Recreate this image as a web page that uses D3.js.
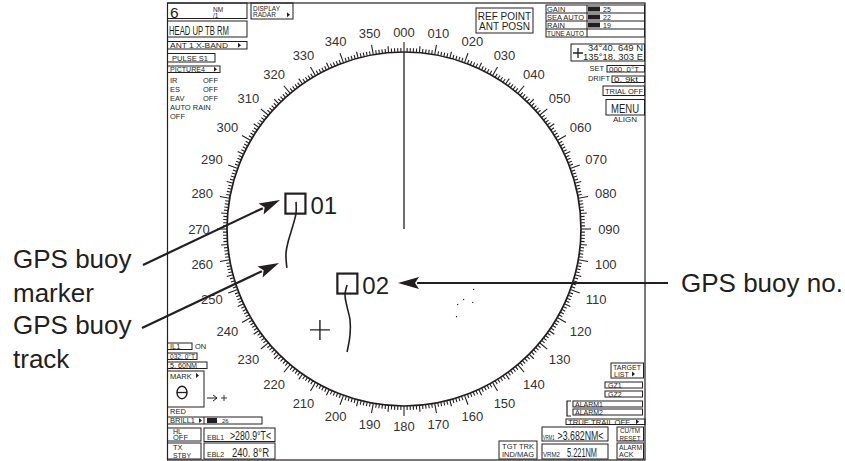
<!DOCTYPE html>
<html>
<head>
<meta charset="utf-8">
<script src="https://cdn.jsdelivr.net/npm/d3@7"></script>
<style>
body{margin:0;background:#fff}
text{font-family:"Liberation Sans",Arial,Helvetica,sans-serif;fill:#231f20}
</style>
</head>
<body>
<svg width="845" height="461"></svg>
<script>
// radar range (NM) and bearing labels every 10 deg
var rangeNM = 6;
var bearingLabels = d3.range(0, 360, 10).map(function(d){ return d3.format("03d")(d); });
// buoys, east/north offsets from own ship in NM
var buoyIds = ["01", "02"];
var buoyEast = [-3.68, -1.92];
var buoyNorth = [0.86, -1.85];
// buoy tracks (east, north in NM)
var track01 = [[-3.66,0.92],[-3.66,0.54],[-3.73,0.24],[-3.83,-0.10],[-3.93,-0.44],[-4.0,-0.81],[-3.97,-1.32]];
var track02 = [[-1.93,-1.90],[-2.0,-2.24],[-1.93,-2.64],[-1.83,-3.08],[-1.83,-3.59],[-1.93,-4.17]];
// cursor and small echoes
var cursorPos = [-2.85, -3.42];
var echoes = [[2.34,-2.03],[2.0,-2.37],[2.31,-2.47],[1.80,-2.54],[1.76,-2.95]];

var svg = d3.select("svg");
var cx = 404, cy = 229, R = 177;
var x = d3.scaleLinear().domain([-rangeNM, rangeNM]).range([cx - R, cx + R]);
var y = d3.scaleLinear().domain([-rangeNM, rangeNM]).range([cy + R, cy - R]);
var ang = d3.scaleLinear().domain([0, 360]).range([0, 2 * Math.PI]);
var ink = "#231f20";

//helpers
function box(x0, y0, w, h, sw){
  svg.append("rect").attr("x", x0).attr("y", y0).attr("width", w).attr("height", h)
    .attr("fill", "none").attr("stroke", ink).attr("stroke-width", sw || 1);
}
function t(x0, y0, s, size, opt){
  opt = opt || {};
  var el = svg.append("text").attr("x", x0).attr("y", y0).attr("font-size", size)
    .attr("text-anchor", opt.anchor || "start").text(s);
  if (opt.len) el.attr("textLength", opt.len).attr("lengthAdjust", "spacingAndGlyphs");
  return el;
}
function tri(x0, y0){
  svg.append("path").attr("d", "M" + x0 + "," + (y0 - 2.5) + "l3,2.5l-3,2.5z").attr("fill", ink);
}

// outer frame
box(167.5, 3, 477.5, 457, 1.2);

// ---- scale ring ----
var ring = svg.append("g");
ring.append("circle").attr("cx", cx).attr("cy", cy).attr("r", R)
  .attr("fill", "none").attr("stroke", ink).attr("stroke-width", 1.7);
function tickLen(d){ return d % 10 == 0 ? 10 : d % 5 == 0 ? 6.5 : 4; }
ring.selectAll("line.tk").data(d3.range(0, 360)).enter().append("line")
  .attr("class", "tk")
  .attr("x1", function(d){ return cx + R * Math.sin(ang(d)); })
  .attr("y1", function(d){ return cy - R * Math.cos(ang(d)); })
  .attr("x2", function(d){ return cx + (R + tickLen(d)) * Math.sin(ang(d)); })
  .attr("y2", function(d){ return cy - (R + tickLen(d)) * Math.cos(ang(d)); })
  .attr("stroke", ink).attr("stroke-width", 1.1);
ring.selectAll("text").data(bearingLabels).enter().append("text")
  .attr("x", function(d){ var a = ang(+d); return cx + (197 + 8 * Math.abs(Math.sin(a))) * Math.sin(a); })
  .attr("y", function(d){ var a = ang(+d); return cy - (197 + 8 * Math.abs(Math.sin(a))) * Math.cos(a); })
  .attr("dy", "0.36em").attr("text-anchor", "middle").attr("font-size", 13)
  .style("fill", "#333").text(function(d){ return d; });
// heading line
svg.append("line").attr("x1", cx).attr("y1", cy).attr("x2", cx).attr("y2", cy - R)
  .attr("stroke", ink).attr("stroke-width", 1.3);

// ---- buoy tracks & markers ----
var line = d3.line().x(function(d){ return x(d[0]); }).y(function(d){ return y(d[1]); }).curve(d3.curveCatmullRom);
[track01, track02].forEach(function(tr){
  svg.append("path").attr("d", line(tr)).attr("fill", "none").attr("stroke", ink).attr("stroke-width", 1.6);
});
buoyIds.forEach(function(id, i){
  var bx = x(buoyEast[i]), by = y(buoyNorth[i]);
  svg.append("rect").attr("x", bx - 10).attr("y", by - 10).attr("width", 20).attr("height", 20)
    .attr("fill", "none").attr("stroke", ink).attr("stroke-width", 2.2);
  t(bx + 15, by + 10.5, id, 24);
});
// cursor
svg.append("path").attr("d", "M" + (x(cursorPos[0]) - 10) + "," + y(cursorPos[1]) + "h20M" + x(cursorPos[0]) + "," + (y(cursorPos[1]) - 10) + "v20")
  .attr("stroke", ink).attr("stroke-width", 1.4);
svg.selectAll("rect.echo").data(echoes).enter().append("rect").attr("class", "echo")
  .attr("x", function(d){ return x(d[0]); }).attr("y", function(d){ return y(d[1]); })
  .attr("width", 1.2).attr("height", 1.2).attr("fill", ink);

// ---- top left panel ----
box(167.5, 3, 79.5, 15.5);
t(170, 18, "6", 15.5);
t(213, 12, "NM", 6.5); t(213, 18, "/1", 6.5);
box(251, 3, 42, 16);
t(253, 10.5, "DISPLAY", 7, {len: 27}); t(253, 17.3, "RADAR", 7, {len: 23}); tri(287, 14.8);
box(167.5, 21, 79.5, 16);
t(169, 35, "HEAD UP TB RM", 12.5, {len: 60});
box(167.5, 41.5, 79.5, 7.5);
t(170, 48.3, "ANT 1  X-BAND", 8, {len: 58}); tri(238, 45.3);
box(167.5, 53.5, 47.5, 8.5);
t(172, 61.3, "PULSE S1", 8, {len: 36});
box(167.5, 66, 52.5, 6.5);
t(170, 72.3, "PICTURE4", 8, {len: 35}); tri(214, 69.3);
[["IR", "OFF"], ["ES", "OFF"], ["EAV", "OFF"]].forEach(function(r, i){
  t(170, 83 + i * 9, r[0], 7.5); t(203, 83 + i * 9, r[1], 7.5);
});
t(170, 110, "AUTO RAIN", 7.5); t(170, 119, "OFF", 7.5);

// ---- top right panel ----
box(476, 8, 57, 25);
t(504.5, 20, "REF POINT", 10, {anchor: "middle"}); t(504.5, 30, "ANT POSN", 10, {anchor: "middle"});
var gains = [["GAIN", "25"], ["SEA AUTO", "22"], ["RAIN", "19"], ["TUNE AUTO", ""]];
box(546, 5, 98.5, 32);
svg.append("line").attr("x1", 587).attr("x2", 587).attr("y1", 5).attr("y2", 37).attr("stroke", ink);
gains.forEach(function(g, i){
  if (i > 0) svg.append("line").attr("x1", 546).attr("x2", 644.5).attr("y1", 5 + i * 8).attr("y2", 5 + i * 8).attr("stroke", ink);
  t(547, 11.8 + i * 8, g[0], 7.5, {len: g[0].length > 5 ? 37 : null});
  if (g[1]) {
    svg.append("rect").attr("x", 588).attr("y", 6.5 + i * 8).attr("width", 12).attr("height", 5).attr("fill", ink);
    t(603, 12 + i * 8, g[1], 7);
  }
});
box(571, 44, 73.5, 17);
svg.append("path").attr("d", "M573,53h10M578,48v10").attr("stroke", ink).attr("stroke-width", 1.3);
t(643, 51.3, "34°40. 649 N", 8.5, {anchor: "end", len: 55});
t(643, 59.8, "135°18. 303 E", 8.5, {anchor: "end", len: 60});
t(604, 71, "SET", 7.5, {anchor: "end"});
box(607, 65.5, 37.5, 6.5); t(609, 71.8, "000. 0°T", 7.5, {len: 30});
t(610, 81, "DRIFT", 7.5, {anchor: "end"});
box(612, 76, 32.5, 6.5); t(614, 82.3, "0. 9kt", 7.5, {len: 24});
box(603, 86, 41.5, 9.5); t(624, 94, "TRIAL OFF", 8, {anchor: "middle", len: 38});
box(606, 99.5, 38.5, 15.5); t(625, 113, "MENU", 13, {anchor: "middle", len: 28});
t(625, 122, "ALIGN", 8, {anchor: "middle"});

// ---- bottom left panel ----
box(167.5, 343, 24.5, 6.5); t(170, 349.3, "IL1", 7.5); t(195, 349.3, "ON", 7.5);
box(167.5, 353, 29.5, 6.5); t(170, 359.3, "032. 0°T", 7.5, {len: 25});
box(167.5, 362, 39.5, 6.5); t(170, 368.3, "5. 60NM", 7.5, {len: 27});
box(167.5, 371, 36.5, 36);
t(170, 378.5, "MARK", 7.5); tri(196, 375.5);
svg.append("ellipse").attr("cx", 182).attr("cy", 392.5).attr("rx", 5).attr("ry", 6.2)
  .attr("fill", "none").attr("stroke", ink).attr("stroke-width", 1.5);
svg.append("line").attr("x1", 177).attr("x2", 187).attr("y1", 392.5).attr("y2", 392.5).attr("stroke", ink).attr("stroke-width", 1.3);
svg.append("path").attr("d", "M207,398h10M213,395l4,3l-4,3").attr("fill", "none").attr("stroke", ink).attr("stroke-width", 1);
svg.append("path").attr("d", "M221,398h6M224,395v6").attr("stroke", ink).attr("stroke-width", 0.9);
t(170, 414, "RED", 7.5);
box(167.5, 417, 94.5, 7);
t(170, 423.3, "BRILL1", 7.5); tri(199, 420.5);
svg.append("line").attr("x1", 204).attr("x2", 204).attr("y1", 417).attr("y2", 424).attr("stroke", ink);
svg.append("rect").attr("x", 207).attr("y", 418).attr("width", 10).attr("height", 5).attr("fill", ink);
t(222, 423, "26", 6);
box(167.5, 428, 33.5, 13); t(173, 433.6, "HL", 7); t(173, 440, "OFF", 7.5, {len: 15});
box(167.5, 443, 33.5, 16); t(173, 450, "TX", 7.5); t(173, 457.5, "STBY", 7.5, {len: 18});
box(204, 428, 71, 13.5); t(207, 440, "EBL1", 7, {len: 17}); t(230, 440, ">280.9°T<", 13, {len: 41});
box(204, 443, 71, 16); t(207, 457, "EBL2", 7, {len: 17}); t(232, 457, "240. 8°R", 13, {len: 37});

// ---- bottom right panel ----
box(611, 363, 32.5, 15); t(627, 369.6, "TARGET", 7, {anchor: "middle", len: 28}); t(614, 376.6, "LIST", 7); tri(632, 374);
box(605, 382, 37.5, 6); t(608, 388, "GZ1", 7);
box(605, 391, 37.5, 6); t(608, 397, "GZ2", 7);
svg.append("path").attr("d", "M571,401H567V416H571").attr("fill", "none").attr("stroke", ink).attr("stroke-width", 1.2);
box(573, 401, 69.5, 6); t(575, 407, "ALARM1", 7, {len: 28});
box(573, 409, 69.5, 6); t(575, 415, "ALARM2", 7, {len: 28});
box(566, 419, 79, 5.5); t(568, 424.5, "TRUE TRAIL OFF", 7.5, {len: 62}); tri(636, 421.7);
box(542, 427, 66, 14); t(543, 440, "VRM1", 6.5, {len: 11.5}); t(557.5, 440, ">3.682NM<", 12.5, {len: 46});
box(617, 427, 26.5, 14); t(630, 433.3, "CU/TM", 6.3, {anchor: "middle"}); t(630, 440.5, "RESET", 6.3, {anchor: "middle"});
box(499, 441, 38, 18); t(518, 449, "TGT TRK", 7.5, {anchor: "middle"}); t(518, 457, "IND/MAG", 7.5, {anchor: "middle"});
box(542, 444, 66, 15); t(543, 457, "VRM2", 7, {len: 17}); t(567, 457, "5.221NM", 12.5, {len: 30});
box(617, 443, 26.5, 16); t(619, 450, "ALARM", 7, {len: 23}); t(619, 457.3, "ACK", 7);

// ---- annotations ----
var notes = [
  {lines: ["GPS buoy", "marker"], x: 13, y: 268, from: [143, 265], to: [280, 200]},
  {lines: ["GPS buoy", "track"], x: 13, y: 334, from: [142, 328], to: [279, 263]}
];
function arrow(a, b){
  var dx = b[0] - a[0], dy = b[1] - a[1], L = Math.sqrt(dx * dx + dy * dy);
  var ux = dx / L, uy = dy / L, hl = 21, hw = 6;
  var bx = b[0] - ux * hl, by = b[1] - uy * hl;
  svg.append("line").attr("x1", a[0]).attr("y1", a[1]).attr("x2", bx + ux * 2).attr("y2", by + uy * 2)
    .attr("stroke", ink).attr("stroke-width", 2.2);
  svg.append("path").attr("d", "M" + b[0] + "," + b[1] + "L" + (bx - uy * hw) + "," + (by + ux * hw) +
    "L" + (bx + ux * 4) + "," + (by + uy * 4) + "L" + (bx + uy * hw) + "," + (by - ux * hw) + "Z").attr("fill", ink);
}
notes.forEach(function(n){
  n.lines.forEach(function(s, i){ t(n.x, n.y + i * 33.5, s, 26); });
  arrow(n.from, n.to);
});
arrow([668, 283], [398, 283]);
t(681, 292, "GPS buoy no.", 26);
</script>
</body>
</html>
